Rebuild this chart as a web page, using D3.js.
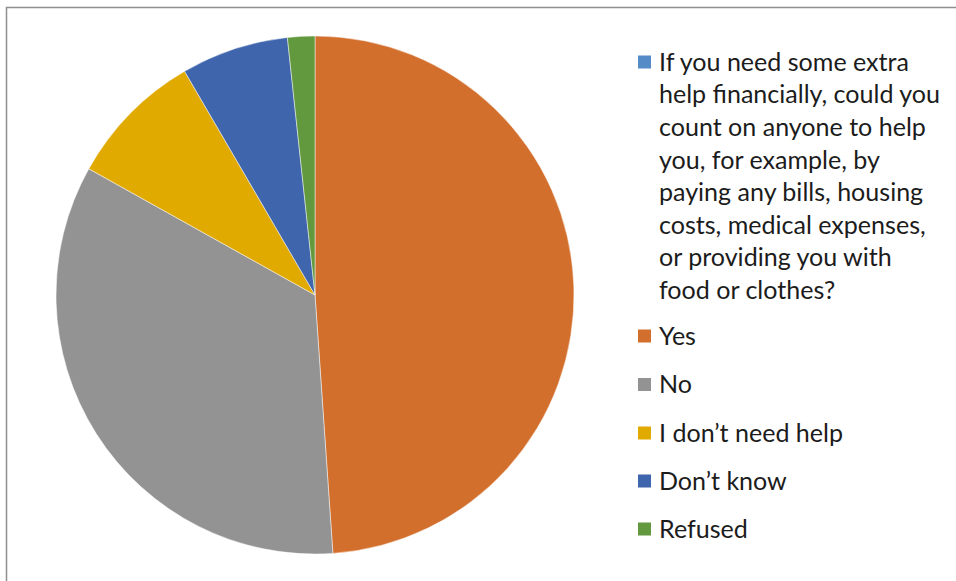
<!DOCTYPE html>
<html>
<head>
<meta charset="utf-8">
<script src="https://cdn.jsdelivr.net/npm/d3@7"></script>
<style>
  html, body { margin: 0; padding: 0; background: #fff; }
  svg { display: block; }
</style>
</head>
<body>
<svg id="chart" width="956" height="581"></svg>
<script>
// Survey answers: share of respondents (%)
const categories = [
  "If you need some extra help financially, could you count on anyone to help you, for example, by paying any bills, housing costs, medical expenses, or providing you with food or clothes?",
  "Yes",
  "No",
  "I don\u2019t need help",
  "Don\u2019t know",
  "Refused"
];
const values = [0, 48.9, 34.2, 8.5, 6.7, 1.7];
const colors = ["#558CC8", "#D36F2C", "#939393", "#E1AA00", "#3F65AC", "#62983E"];

// Legend text, wrapped as displayed
const legendLines = [
  ["If you need some extra", "help financially, could you", "count on anyone to help",
   "you, for example, by", "paying any bills, housing", "costs, medical expenses,",
   "or providing you with", "food or clothes?"],
  ["Yes"], ["No"], ["I don\u2019t need help"], ["Don\u2019t know"], ["Refused"]
];

const svg = d3.select("#chart");
const W = 956, H = 581;

// chart frame
svg.append("rect")
  .attr("x", 6.5).attr("y", 7.5)
  .attr("width", W + 10).attr("height", H + 10)
  .attr("fill", "none").attr("stroke", "#8f8f8f").attr("stroke-width", 1.5);

const cx = 315, cy = 295, r = 259;

const pie = d3.pie().sort(null).value(d => d.v).startAngle(0).endAngle(2 * Math.PI);
const arc = d3.arc().innerRadius(0).outerRadius(r);
const data = categories.map((c, i) => ({ c, v: values[i], col: colors[i] }));

svg.append("g")
  .attr("transform", `translate(${cx},${cy})`)
  .selectAll("path")
  .data(pie(data).filter(d => d.data.v > 0))
  .join("path")
  .attr("d", arc)
  .attr("fill", d => d.data.col)
  .attr("stroke", "#ffffff")
  .attr("stroke-opacity", 0.6)
  .attr("stroke-width", 0.8);

// legend
const font = "Lato, 'Open Sans', sans-serif";
const lg = svg.append("g");
const textX = 659, markX = 638, markSize = 13;
const lineH = 32.6;

// fit font size so the widest wrapped line spans the measured width
const probe = lg.append("text").attr("font-family", font).attr("font-size", 100)
  .text("help financially, could you");
const w100 = probe.node().getComputedTextLength();
probe.remove();
const fs = 100 * 281 / w100;

const firstY = 62;
const itemY = [firstY, 336, 384.5, 433, 481, 529];

legendLines.forEach((lines, i) => {
  const y0 = itemY[i];
  lg.append("rect")
    .attr("x", markX).attr("y", y0 - markSize / 2)
    .attr("width", markSize).attr("height", markSize)
    .attr("fill", colors[i]);
  const t = lg.append("text")
    .attr("font-family", font)
    .attr("font-size", fs)
    .attr("fill", "#1c1c1c");
  lines.forEach((ln, j) => {
    t.append("tspan")
      .attr("x", textX)
      .attr("y", y0 + j * lineH)
      .attr("dy", "0.35em")
      .text(ln);
  });
});
</script>
</body>
</html>
